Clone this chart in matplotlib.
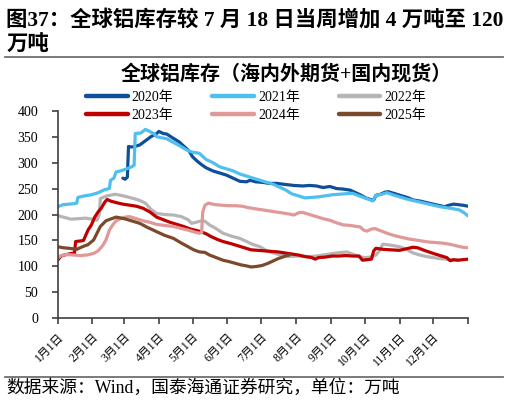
import matplotlib
matplotlib.use("Agg")
import matplotlib.pyplot as plt
from matplotlib.lines import Line2D

plt.rcParams['font.family'] = ['Liberation Serif', 'Noto Sans CJK SC']

# ---- data (day of year, 万吨) ----
d2020 = [58, 60, 62, 63, 66, 70, 73, 78, 83, 88, 90, 94, 97, 102, 108, 113, 117, 120, 124, 128, 132, 138, 144, 150,
         156, 162, 168, 171, 176, 182, 188, 195, 202, 210, 218, 224, 230, 236, 242, 248, 254, 260, 265, 269, 274, 278,
         281, 283, 287, 291, 294, 300, 306, 312, 316, 322, 328, 334, 340, 344, 348, 352, 356, 360, 365]
v2020 = [270, 268, 272, 331, 330, 332, 334, 342, 350, 356, 360, 356, 355, 348, 340, 330, 322, 311, 303, 296, 290, 284,
         280, 276, 270, 264, 263, 266, 263, 262, 260, 260, 258, 256, 255, 256, 255, 252, 254, 250, 249, 247, 242, 238,
         232, 229, 228, 237, 239, 243, 244, 240, 236, 232, 228, 226, 223, 220, 217, 215, 218, 220, 219, 218, 216]

d2021 = [0, 5, 10, 15, 17, 18, 24, 30, 36, 42, 46, 47, 50, 52, 56, 60, 66, 68, 69, 74, 78, 82, 86, 88, 92, 97, 102,
         108, 115, 120, 126, 132, 138, 144, 150, 156, 162, 168, 174, 180, 186, 192, 198, 203, 208, 214, 220, 226, 232,
         238, 244, 250, 256, 262, 268, 273, 277, 280, 283, 288, 293, 298, 304, 310, 316, 322, 328, 334, 340, 346, 352,
         357, 361, 365]
v2021 = [215, 219, 220, 221, 222, 233, 236, 238, 242, 248, 250, 266, 270, 282, 284, 287, 292, 295, 356, 357, 364, 360,
         355, 350, 348, 346, 340, 333, 324, 320, 318, 306, 300, 292, 288, 284, 278, 274, 270, 266, 262, 258, 252, 247,
         240, 236, 232, 233, 234, 236, 238, 239, 240, 241, 236, 232, 229, 226, 237, 239, 242, 238, 234, 230, 227, 224,
         221, 218, 215, 213, 211, 209, 204, 197]

d2022 = [0, 5, 12, 18, 25, 31, 35, 37, 38, 44, 51, 56, 62, 67, 72, 78, 83, 88, 95, 103, 110, 116, 119, 123, 128, 131,
         135, 140, 147, 155, 162, 168, 174, 180, 186, 192, 198, 206, 214, 222, 230, 236, 242, 248, 257, 262, 268, 273,
         278, 283, 286, 289, 296, 304, 310, 316, 322, 328, 334, 340, 346, 352, 356]
v2022 = [198, 195, 191, 192, 193, 191, 189, 200, 231, 236, 239, 237, 234, 231, 228, 222, 210, 202, 200, 199, 196, 190,
         183, 185, 188, 187, 180, 174, 164, 158, 154, 148, 142, 138, 130, 126, 122, 119, 120, 119, 120, 122, 124, 126,
         128, 124, 119, 117, 118, 122, 130, 143, 141, 138, 133, 126, 122, 119, 117, 115, 114, 112, 112]

d2023 = [0, 3, 6, 10, 15, 16, 20, 23, 25, 27, 30, 33, 36, 39, 42, 44, 47, 52, 58, 64, 70, 76, 82, 88, 94, 100, 106,
         112, 118, 124, 127, 132, 136, 142, 147, 154, 160, 166, 172, 178, 184, 190, 196, 202, 208, 214, 220, 226, 229,
         232, 238, 244, 250, 256, 262, 268, 271, 275, 279, 281, 283, 289, 296, 304, 310, 316, 320, 326, 334, 340, 346,
         349, 352, 356, 360, 365]
v2023 = [112, 120, 122, 124, 126, 148, 149, 150, 160, 170, 180, 195, 205, 213, 224, 229, 226, 223, 220, 218, 216, 212,
         205, 195, 190, 185, 181, 177, 172, 169, 167, 163, 158, 152, 148, 144, 140, 136, 132, 131, 130, 129, 128, 126,
         124, 122, 119, 117, 114, 117, 118, 120, 120, 121, 120, 120, 112, 113, 114, 130, 135, 133, 132, 131, 134, 137,
         136, 131, 125, 121, 117, 111, 113, 112, 113, 114]

d2024 = [0, 3, 8, 14, 20, 26, 32, 36, 40, 43, 46, 49, 52, 56, 60, 64, 70, 76, 82, 88, 95, 103, 110, 116, 122, 126,
         128, 129, 131, 134, 140, 146, 152, 158, 164, 170, 176, 182, 188, 194, 200, 206, 210, 215, 218, 224, 230, 236,
         242, 248, 254, 260, 266, 269, 272, 275, 279, 282, 288, 294, 300, 306, 312, 318, 324, 330, 336, 342, 348, 354,
         360, 365]
v2024 = [116, 121, 123, 122, 121, 122, 125, 130, 140, 151, 170, 180, 188, 192, 195, 196, 192, 188, 185, 181, 179, 177,
         173, 170, 166, 164, 165, 205, 218, 222, 219, 218, 217, 217, 216, 213, 211, 209, 207, 205, 203, 201, 199, 204,
         204, 200, 196, 192, 189, 184, 180, 179, 177, 176, 170, 168, 172, 173, 168, 163, 159, 156, 153, 151, 149, 147,
         146, 145, 143, 140, 137, 136]

d2025 = [0, 5, 10, 17, 22, 27, 32, 35, 38, 43, 48, 52, 57, 61, 67, 73, 80, 88, 95, 103, 110, 116, 121, 126, 131, 135,
         141, 147, 153, 158, 163, 168, 172, 177, 182, 187, 192, 196, 200, 204, 206]
v2025 = [138, 136, 135, 133, 138, 142, 151, 164, 177, 188, 192, 195, 193, 191, 187, 183, 175, 167, 160, 154, 145, 138,
         132, 128, 127, 122, 117, 112, 109, 106, 103, 101, 99, 100, 102, 106, 111, 115, 118, 121, 122]

years = ["2020年", "2021年", "2022年", "2023年", "2024年", "2025年"]
month_starts = [0, 31, 59, 90, 120, 151, 181, 212, 243, 273, 304, 334, 365]
month_labels = ["1月1日", "2月1日", "3月1日", "4月1日", "5月1日", "6月1日", "7月1日",
                "8月1日", "9月1日", "10月1日", "11月1日", "12月1日", ""]
y_ticks = [0, 50, 100, 150, 200, 250, 300, 350, 400]

series = [(d2020, v2020), (d2021, v2021), (d2022, v2022), (d2023, v2023), (d2024, v2024), (d2025, v2025)]
colors = ["#0F4E98", "#4FBFEF", "#B5B5B5", "#C00000", "#E09898", "#7A4A2A"]

fig = plt.figure(figsize=(5.10, 4.04), dpi=100)
ax = fig.add_axes([0.113, 0.212, 0.805, 0.514])

for (d, v), c in zip(series, colors):
    ax.plot(d, v, color=c, lw=2.3, solid_joinstyle='round', solid_capstyle='round')

ax.set_xlim(0, 365)
ax.set_ylim(0, 400)
ax.set_yticks(y_ticks)
ax.set_yticklabels([str(t) for t in y_ticks], fontsize=10)
ax.set_xticks(month_starts)
ax.set_xticklabels(month_labels, fontsize=8.5, rotation=45, ha='right', rotation_mode='anchor')
for s in ['top', 'right']:
    ax.spines[s].set_visible(False)
for s in ['left', 'bottom']:
    ax.spines[s].set_color('#404040')
    ax.spines[s].set_linewidth(1.2)
ax.tick_params(axis='y', length=4, width=1.2, color='#404040', pad=10)
ax.tick_params(axis='x', length=4, width=1.2, color='#404040', pad=5)

# legend (row-major order: 2020 2021 2022 / 2023 2024 2025)
handles = [Line2D([0], [0], color=c, lw=3.2, solid_capstyle='round') for c in colors]
order = [0, 3, 1, 4, 2, 5]
leg = fig.legend([handles[i] for i in order], [years[i] for i in order], loc='upper left',
                 bbox_to_anchor=(0.155, 0.792), ncol=3,
                 frameon=False, fontsize=10, handlelength=3.0, columnspacing=2.8,
                 handletextpad=0.3, labelspacing=0.35, borderpad=0)

# titles
fig.text(0.012, 0.975, "图37：全球铝库存较 7 月 18 日当周增加 4 万吨至 120\n万吨",
         fontsize=15.4, fontweight='bold', va='top', ha='left', linespacing=1.35)
fig.add_artist(Line2D([0.01, 0.987], [0.859, 0.859], color='#707070', lw=1.3))
fig.text(0.562, 0.815, "全球铝库存（海内外期货+国内现货）", fontsize=14.4, fontweight='bold',
         ha='center', va='center')
fig.add_artist(Line2D([0.01, 0.987], [0.067, 0.067], color='#707070', lw=1.3))
fig.text(0.012, 0.04, "数据来源：Wind，国泰海通证券研究，单位：万吨", fontsize=12.8,
         ha='left', va='center')

fig.savefig("out.png", dpi=100)
